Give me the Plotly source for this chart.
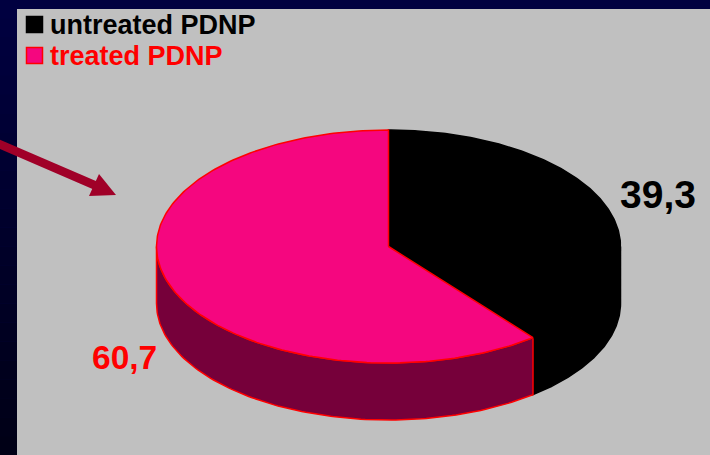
import numpy as np
import plotly.graph_objects as go

categories = ["untreated PDNP", "treated PDNP"]
values = [39.3, 60.7]
value_labels = ["39,3", "60,7"]
top_colors = ["#000000", "#F5067F"]
wall_colors = ["#000000", "#76003A"]
edge_colors = ["#000000", "#FF0000"]
text_colors = ["#000000", "#FF0000"]

W, H = 710, 455
cx, cy, rx, ry, depth = 388.5, 246.5, 232, 116.5, 57

def px(t):
    return cx + rx * np.sin(t)

def py(t, drop=0):
    return cy - ry * np.cos(t) + drop

fractions = np.array(values) / sum(values)
bounds = np.concatenate([[0], np.cumsum(fractions)]) * 2 * np.pi

fig = go.Figure()

# walls (only the front half of the rim is visible)
for i in range(len(values)):
    a, b = max(bounds[i], np.pi / 2), min(bounds[i + 1], 3 * np.pi / 2)
    t = np.linspace(a, b, 120)
    xs = np.concatenate([px(t), px(t[::-1])])
    ys = np.concatenate([py(t), py(t[::-1], depth)])
    fig.add_trace(go.Scatter(x=np.append(xs, xs[0]), y=np.append(ys, ys[0]), mode="lines",
                             fill="toself", fillcolor=wall_colors[i],
                             line=dict(color=edge_colors[i], width=1.5), hoverinfo="skip"))
# top faces
for i in range(len(values)):
    t = np.linspace(bounds[i], bounds[i + 1], 240)
    xs = np.concatenate([[cx], px(t), [cx]])
    ys = np.concatenate([[cy], py(t), [cy]])
    fig.add_trace(go.Scatter(x=xs, y=ys, mode="lines", fill="toself", fillcolor=top_colors[i],
                             line=dict(color=edge_colors[i], width=1.5), hoverinfo="skip"))

# legend swatches
legend_y = [24.5, 55.5]
fig.add_trace(go.Scatter(x=[34.5, 34.5], y=legend_y, mode="markers", hoverinfo="skip",
                         marker=dict(symbol="square", size=16, color=top_colors,
                                     line=dict(color=edge_colors, width=1.5))))

ann = []
for i, c in enumerate(categories):
    ann.append(dict(x=48, y=legend_y[i] + 0.5, text=f"<b>{c}</b>", showarrow=False, xanchor="left",
                    yanchor="middle", font=dict(family="Liberation Sans", size=27, color=text_colors[i])))
ann.append(dict(x=618, y=194, text=f"<b>{value_labels[0]}</b>", showarrow=False, xanchor="left",
                yanchor="middle", font=dict(family="Liberation Sans", size=39, color=text_colors[0])))
ann.append(dict(x=90, y=357, text=f"<b>{value_labels[1]}</b>", showarrow=False, xanchor="left",
                yanchor="middle", font=dict(family="Liberation Sans", size=33.5, color=text_colors[1])))

shapes = []
# dark backdrop: left strip fades downwards
bands = 24
for k in range(bands):
    blue = int(round(0x40 + (0x16 - 0x40) * k / (bands - 1)))
    shapes.append(dict(type="rect", layer="below", x0=0, x1=17, y0=H * k / bands, y1=H * (k + 1) / bands,
                       fillcolor=f"rgb(0,0,{blue})", line_width=0))
shapes.append(dict(type="rect", layer="below", x0=17, x1=W, y0=9, y1=H, fillcolor="#C0C0C0", line_width=0))
# pointer arrow
shapes.append(dict(type="line", layer="above", x0=-2, y0=143.5, x1=100, y1=187.5,
                   line=dict(color="#A00028", width=8.5)))
shapes.append(dict(type="path", layer="above", path="M116,195 L99,174 L89,196 Z",
                   fillcolor="#A00028", line_width=0))

fig.update_layout(width=W, height=H, margin=dict(l=0, r=0, t=0, b=0), showlegend=False,
                  paper_bgcolor="#000040", plot_bgcolor="rgba(0,0,0,0)",
                  xaxis=dict(range=[0, W], visible=False, fixedrange=True),
                  yaxis=dict(range=[H, 0], visible=False, fixedrange=True),
                  annotations=ann, shapes=shapes)
fig.write_html("out.html", config=dict(displayModeBar=False),
               post_script="document.body.style.margin='0';document.body.style.overflow='hidden';")
